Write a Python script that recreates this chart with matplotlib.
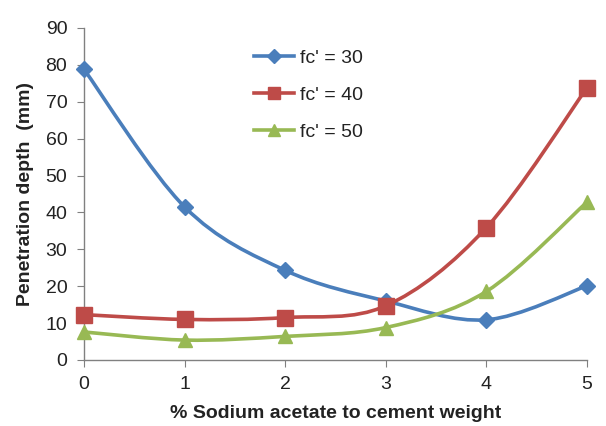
import matplotlib
matplotlib.use("Agg")
import matplotlib.pyplot as plt
import numpy as np
from matplotlib.path import Path
from matplotlib.patches import PathPatch
from matplotlib.lines import Line2D

plt.rcParams['font.family'] = ['Liberation Sans', 'DejaVu Sans']

x_vals = [0, 1, 2, 3, 4, 5]
fc30 = [78.8, 41.5, 24.3, 16.0, 10.9, 20.1]
fc40 = [12.3, 11.0, 11.5, 14.7, 35.9, 73.8]
fc50 = [7.6, 5.4, 6.4, 8.8, 18.6, 42.8]
series_labels = ["fc' = 30", "fc' = 40", "fc' = 50"]
colors = ['#4A7EBB', '#BE4B48', '#98B954']
markers = ['D', 's', '^']
msizes = [8, 11, 10]

fig = plt.figure(figsize=(6.06, 4.26), dpi=100)
ax = fig.add_axes([84/606, 66/426, (587-84)/606, (360-28)/426])


def smooth_path(xs, ys):
    p = np.column_stack([xs, ys]).astype(float)
    n = len(p)
    verts = [p[0]]
    codes = [Path.MOVETO]
    for i in range(n - 1):
        p_prev = p[i - 1] if i > 0 else p[i]
        p_next2 = p[i + 2] if i + 2 < n else p[i + 1]
        c1 = p[i] + (p[i + 1] - p_prev) / 6.0
        c2 = p[i + 1] - (p_next2 - p[i]) / 6.0
        verts += [c1, c2, p[i + 1]]
        codes += [Path.CURVE4] * 3
    return Path(verts, codes)


handles = []
for ys, c, m, ms, lab in zip([fc30, fc40, fc50], colors, markers, msizes, series_labels):
    patch = PathPatch(smooth_path(x_vals, ys), facecolor='none', edgecolor=c,
                      lw=2.6, zorder=2, clip_on=False)
    ax.add_patch(patch)
    ax.plot(x_vals, ys, linestyle='none', marker=m, ms=ms, color=c,
            markeredgecolor=c, zorder=3, clip_on=False)
    handles.append(Line2D([0], [0], color=c, lw=2.6, marker=m, ms=ms * 0.85,
                          markeredgecolor=c, label=lab))

ax.set_xlim(0, 5)
ax.set_ylim(0, 90)
ax.set_xticks(range(0, 6))
ax.set_yticks(range(0, 91, 10))
for s in ['top', 'right']:
    ax.spines[s].set_visible(False)
for s in ['left', 'bottom']:
    ax.spines[s].set_color('#808080')
    ax.spines[s].set_linewidth(1.0)
ax.tick_params(axis='both', direction='out', length=5, color='#808080',
               labelsize=14, labelcolor='#222222')
ax.tick_params(axis='x', pad=6.5)
ax.tick_params(axis='y', pad=7)

ax.set_xlabel('% Sodium acetate to cement weight', fontsize=14,
              fontweight='bold', color='#222222', labelpad=8.5)
ax.set_ylabel('Penetration depth  (mm)', fontsize=14, fontweight='bold',
              color='#222222', labelpad=8)

leg = ax.legend(handles=handles, loc='upper left',
                bbox_to_anchor=(152/503, 1 - 4/332), frameon=False,
                fontsize=14, handlelength=2.1, labelspacing=1.0,
                handletextpad=0.3)
for t in leg.get_texts():
    t.set_color('#222222')

fig.savefig('out.png', dpi=100)
